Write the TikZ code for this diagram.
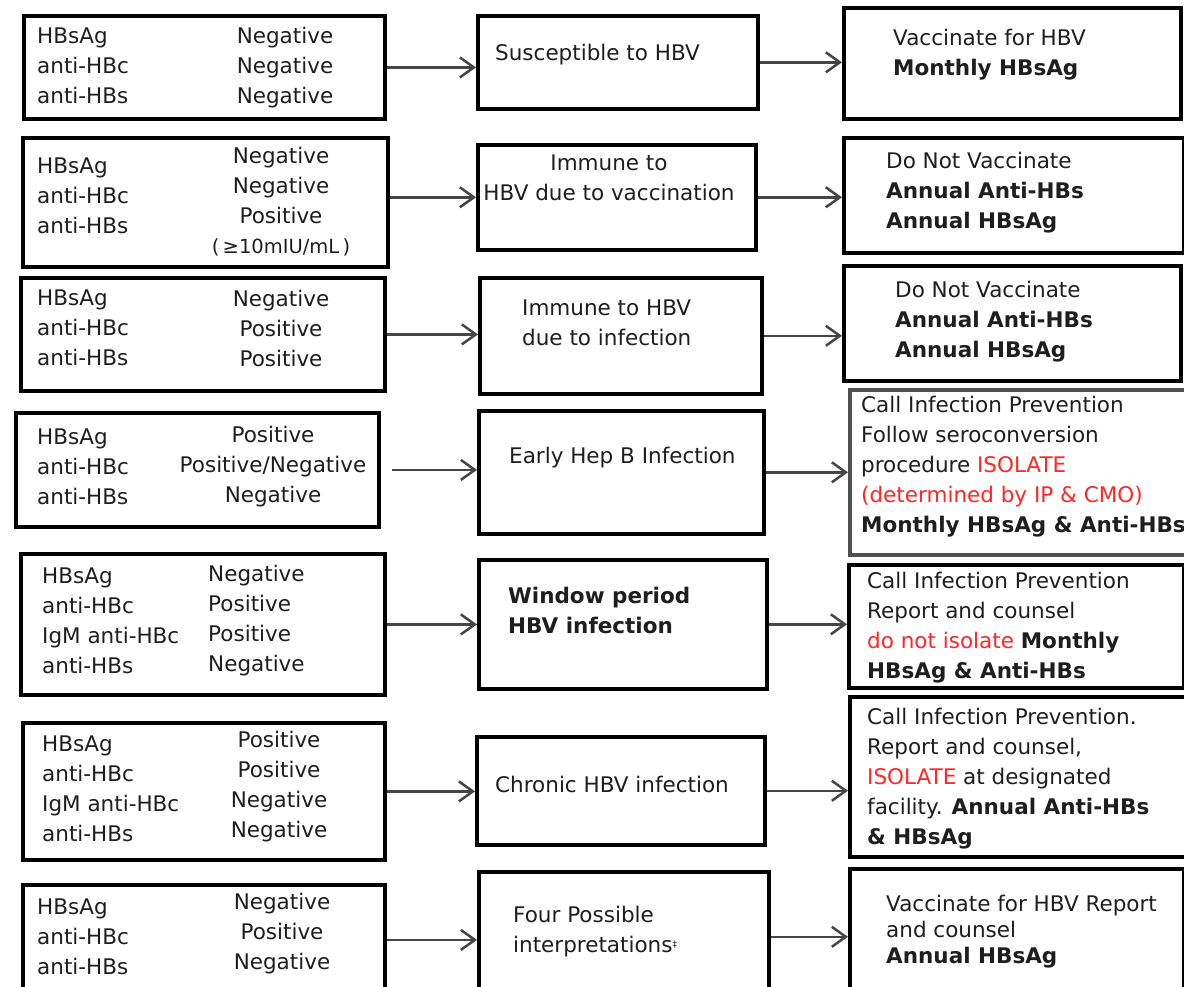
\documentclass[tikz,border=0pt]{standalone}
\usepackage{fontspec}
\setmainfont{DejaVu Sans}
\usepackage{tikz}
\usepackage{xcolor}
\usetikzlibrary{
  arrows.meta,
  positioning,
  calc
}
\definecolor{ink}{HTML}{1E1E1E}
\definecolor{isored}{HTML}{FF2626}
\definecolor{arrowgray}{HTML}{454545}
\definecolor{boxgray}{HTML}{505050}

\begin{document}
\begin{tikzpicture}[
    x=1pt, y=-1pt, % pixel grid of the sheet
    every node/.style={font=\fontsize{21.5}{30}\selectfont, text=ink, inner sep=0pt},
    testbox/.style={
      rectangle, draw=black, line width=3.8pt,
      anchor=north west, fill=white
    },
    resultbox/.style={
      rectangle, draw=black, line width=3.6pt,
      anchor=north west, fill=white
    },
    actionbox/.style={
      rectangle, draw=black, line width=3.8pt,
      anchor=north west, fill=white
    },
    lab/.style={anchor=west, align=left},
    val/.style={align=center},
    txt/.style={anchor=west, align=left},
    arrow/.style={draw=arrowgray, line width=2.5pt,
      -{Straight Barb[length=14pt, width=20pt]}},
  ]

  % --- Page frame ---
  \useasboundingbox (0,0) rectangle (1184,986);
  \clip (0,0) rectangle (1184,986);
  \fill[white] (0,0) rectangle (1184,986);

  % --- Serology panels (left) ---
  \node[testbox, minimum width=361pt, minimum height=103pt] (l1) at (22,14) {};
  \node[testbox, minimum width=365pt, minimum height=129pt] (l2) at (21,136) {};
  \node[testbox, minimum width=364pt, minimum height=113pt] (l3) at (19,276) {};
  \node[testbox, minimum width=363pt, minimum height=114pt] (l4) at (14,411) {};
  \node[testbox, minimum width=364pt, minimum height=141pt] (l5) at (19,552) {};
  \node[testbox, minimum width=362pt, minimum height=137pt] (l6) at (21,721) {};
  \node[testbox, minimum width=362pt, minimum height=110pt] (l7) at (21,883) {};

  % --- Interpretation (middle) ---
  \node[resultbox, minimum width=280pt, minimum height=93pt] (m1) at (476,14) {};
  \node[resultbox, minimum width=278pt, minimum height=105pt] (m2) at (476,143) {};
  \node[resultbox, minimum width=282pt, minimum height=116pt] (m3) at (478,276) {};
  \node[resultbox, minimum width=285pt, minimum height=123pt] (m4) at (477,409) {};
  \node[resultbox, minimum width=288pt, minimum height=129pt] (m5) at (477,558) {};
  \node[resultbox, minimum width=288pt, minimum height=108pt] (m6) at (475,735) {};
  \node[resultbox, minimum width=290pt, minimum height=130pt] (m7) at (477,870) {};

  % --- Action (right) ---
  \node[actionbox, minimum width=337pt, minimum height=111pt] (r1) at (842,6) {};
  \node[actionbox, minimum width=340pt, minimum height=115pt] (r2) at (842,136) {};
  \node[actionbox, minimum width=337pt, minimum height=115pt] (r3) at (842,264) {};
  \node[actionbox, draw=boxgray, minimum width=345pt, minimum height=165pt] (r4) at (848,388) {};
  \node[actionbox, minimum width=335pt, minimum height=123pt] (r5) at (847,563) {};
  \node[actionbox, minimum width=345pt, minimum height=160pt] (r6) at (848,695) {};
  \node[actionbox, minimum width=334pt, minimum height=128pt] (r7) at (848,867) {};

  % --- Row 1 ---
  \node[lab] (l1t) at (37,66) {HBsAg\\anti-HBc\\anti-HBs};
  \node[val] (l1v) at (285,68) {Negative\\Negative\\Negative};
  \node[txt] (m1t) at (495,55) {Susceptible to HBV};
  \node[txt] (r1t) at (893,55) {Vaccinate for HBV\\\textbf{Monthly HBsAg}};

  % --- Row 2 ---
  \node[lab] (l2t) at (37,196) {HBsAg\\anti-HBc\\anti-HBs};
  \node[val] (l2v) at (281,202)
    {Negative\\Negative\\Positive\\{\fontsize{19.5}{30}\selectfont (\,≥10mIU/mL\,)}};
  \node[val] (m2t) at (609,178) {Immune to\\HBV due to vaccination};
  \node[txt] (r2t) at (886,193)
    {Do Not Vaccinate\\\textbf{Annual Anti-HBs}\\\textbf{Annual HBsAg}};

  % --- Row 3 ---
  \node[lab] (l3t) at (37,328) {HBsAg\\anti-HBc\\anti-HBs};
  \node[val] (l3v) at (281,328) {Negative\\Positive\\Positive};
  \node[txt] (m3t) at (522,323) {Immune to HBV\\due to infection};
  \node[txt] (r3t) at (895,322)
    {Do Not Vaccinate\\\textbf{Annual Anti-HBs}\\\textbf{Annual HBsAg}};

  % --- Row 4 ---
  \node[lab] (l4t) at (37,467) {HBsAg\\anti-HBc\\anti-HBs};
  \node[val] (l4v) at (273,467) {Positive\\Positive/Negative\\Negative};
  \node[txt] (m4t) at (509,458) {Early Hep B Infection};
  \node[txt] (r4t) at (861,467)
    {Call Infection Prevention\\Follow seroconversion\\
     procedure \textcolor{isored}{ISOLATE}\\
     \textcolor{isored}{(determined by IP \& CMO)}\\
     \textbf{Monthly HBsAg \& Anti-HBs}};

  % --- Row 5 ---
  \node[lab] (l5t) at (42,621) {HBsAg\\anti-HBc\\IgM anti-HBc\\anti-HBs};
  \node[lab] (l5v) at (208,621) {Negative\\Positive\\Positive\\Negative};
  \node[txt] (m5t) at (508,610) {\textbf{Window period}\\\textbf{HBV infection}};
  \node[txt] (r5t) at (867,628)
    {Call Infection Prevention\\Report and counsel\\
     \textcolor{isored}{do not isolate} \textbf{Monthly}\\
     \textbf{HBsAg \& Anti-HBs}};

  % --- Row 6 ---
  \node[lab] (l6t) at (42,789) {HBsAg\\anti-HBc\\IgM anti-HBc\\anti-HBs};
  \node[val] (l6v) at (279,787) {Positive\\Positive\\Negative\\Negative};
  \node[txt] (m6t) at (495,784) {Chronic HBV infection};
  \node[txt] (r6t) at (867,779)
    {Call Infection Prevention.\\Report and counsel,\\
     \textcolor{isored}{ISOLATE} at designated\\
     facility. \textbf{Annual Anti-HBs}\\
     \textbf{\& HBsAg}};

  % --- Row 7 ---
  \node[lab] (l7t) at (37,937) {HBsAg\\anti-HBc\\anti-HBs};
  \node[val] (l7v) at (282,934) {Negative\\Positive\\Negative};
  \node[txt] (m7t) at (513,932)
    {Four Possible\\interpretations\raisebox{5pt}{\fontsize{9}{9}\selectfont ‡}};
  \node[txt, font=\fontsize{21.5}{26}\selectfont] (r7t) at (886,932)
    {Vaccinate for HBV Report\\and counsel\\\textbf{Annual HBsAg}};

  % --- Arrows ---
  \draw[arrow] (l1.east) -- (l1.east -| m1.west);
  \draw[arrow] (m1.east) -- (m1.east -| r1.west);
  \draw[arrow] (m2.west -| l2.east) -- (m2.west);
  \draw[arrow] (m2.east) -- (m2.east -| r2.west);
  \draw[arrow] (l3.east) -- (l3.east -| m3.west);
  \draw[arrow] (m3.east) -- (m3.east -| r3.west);
  \draw[arrow] ([xshift=11pt]l4.east) -- (l4.east -| m4.west);
  \draw[arrow] (m4.east) -- (m4.east -| r4.west);
  \draw[arrow] (l5.east) -- (l5.east -| m5.west);
  \draw[arrow] (m5.east) -- (m5.east -| r5.west);
  \draw[arrow] (l6.east) -- (l6.east -| m6.west);
  \draw[arrow] (m6.east) -- (m6.east -| r6.west);
  \draw[arrow] (l7.east) -- (l7.east -| m7.west);
  \draw[arrow] (m7.east) -- (m7.east -| r7.west);
\end{tikzpicture}
\end{document}
